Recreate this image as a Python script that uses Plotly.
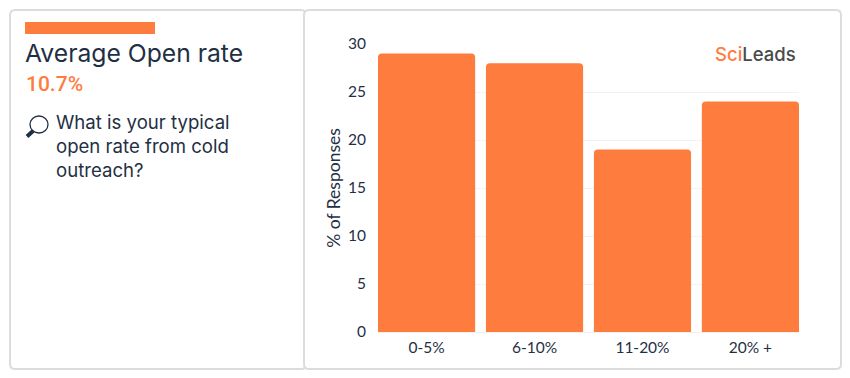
import plotly.graph_objects as go

categories = ["0-5%", "6-10%", "11-20%", "20% +"]
values = [29, 28, 19, 24]
y_ticks = [0, 5, 10, 15, 20, 25, 30]
title = "Average Open rate"
headline = "10.7%"
question = "What is your typical<br>open rate from cold<br>outreach?"
y_title = "% of Responses"

W, H = 850, 378
L, R, T, B = 378, 799, 44, 332
ORANGE = "#FF7C3F"
DARK = "#1F3044"
FONT = "Lato, Noto Sans, sans-serif"
WIDE = "Inter, Noto Sans, sans-serif"


def px(x):
    return (x - L) / (R - L)


def py(y):
    return (B - y) / (B - T)


def rounded(x0, y0, x1, y1, r=5):
    a, b, c, d = px(x0), px(x1), py(y0), py(y1)
    rx, ry = r / (R - L), r / (B - T)
    return (f"M{a+rx},{c} L{b-rx},{c} Q{b},{c} {b},{c-ry} L{b},{d+ry} Q{b},{d} {b-rx},{d} "
            f"L{a+rx},{d} Q{a},{d} {a},{d+ry} L{a},{c-ry} Q{a},{c} {a+rx},{c} Z")


fig = go.Figure(go.Bar(x=categories, y=values, marker=dict(color=ORANGE, cornerradius=4, line=dict(width=0))))

panel = dict(color="#DCDCDC", width=2)
shapes = [
    dict(type="path", path=rounded(10, 10, 306, 369), line=panel, fillcolor="white", layer="below",
         xref="paper", yref="paper"),
    dict(type="path", path=rounded(304, 10, 841, 369), line=panel, fillcolor="white", layer="below",
         xref="paper", yref="paper"),
    dict(type="rect", x0=px(25), x1=px(155), y0=py(22), y1=py(34), fillcolor=ORANGE, line_width=0,
         xref="paper", yref="paper"),
    # magnifying glass
    dict(type="circle", x0=px(30), x1=px(48), y0=py(133), y1=py(116), line=dict(color=DARK, width=1.3),
         xref="paper", yref="paper"),
    dict(type="line", x0=px(27), x1=px(33), y0=py(136.5), y1=py(131), line=dict(color=DARK, width=4),
         xref="paper", yref="paper"),
]

annotations = [
    dict(x=px(24), y=py(53), text=title, font=dict(size=24.7, color=DARK, family=WIDE)),
    dict(x=px(25), y=py(84), text=headline, font=dict(size=21, color=ORANGE, family="Roboto, sans-serif", weight=500)),
    dict(x=px(55), y=py(146), text=question, align="left", font=dict(size=18.6, color=DARK, family=WIDE)),
    dict(x=px(714), y=py(54), text=f"<span style='color:{ORANGE}'>Sci</span><span style='color:#4A4A4A'>Leads</span>",
         font=dict(size=18.5, family=WIDE, weight=500)),
]
for a in annotations:
    a.update(xref="paper", yref="paper", xanchor="left", yanchor="middle", showarrow=False, borderpad=0)

fig.update_layout(
    width=W, height=H, autosize=False,
    margin=dict(l=L, r=W - R, t=T, b=H - B, pad=0),
    paper_bgcolor="white", plot_bgcolor="rgba(0,0,0,0)",
    bargap=0.1, showlegend=False,
    font=dict(family=FONT, color=DARK),
    shapes=shapes, annotations=annotations,
    xaxis=dict(range=[-0.45, 3.45], tickfont=dict(size=15.5, color=DARK), ticks="outside", ticklen=1,
               tickcolor="rgba(0,0,0,0)", showgrid=False, zeroline=False,
               showline=True, linecolor="#F0F0F0", linewidth=1),
    yaxis=dict(range=[0, 30], tickvals=y_ticks, tickfont=dict(size=15.5, color=DARK),
               ticks="outside", ticklen=8, tickcolor="rgba(0,0,0,0)",
               gridcolor="#F2F2F2", gridwidth=1, zeroline=False, showline=False,
               title=dict(text=y_title, font=dict(size=17.5, color=DARK), standoff=2)),
)

fig.write_html("out.html", config=dict(displayModeBar=False),
               post_script="document.body.style.margin='0';")
